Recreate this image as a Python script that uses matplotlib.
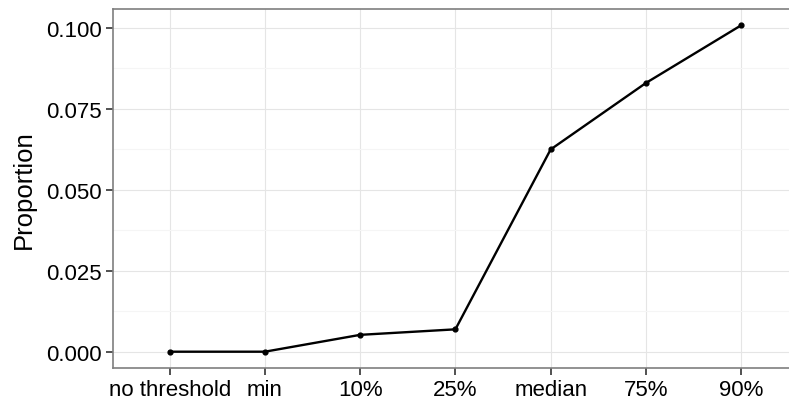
import matplotlib
matplotlib.use("Agg")
import matplotlib.pyplot as plt
from matplotlib.ticker import FixedLocator

categories = ["no threshold", "min", "10%", "25%", "median", "75%", "90%"]
proportion = [0.0, 0.0, 0.0052, 0.0069, 0.0624, 0.0829, 0.1007]
y_ticks = [0.000, 0.025, 0.050, 0.075, 0.100]

plt.rcParams['font.family'] = ['Liberation Sans', 'DejaVu Sans']
plt.rcParams['savefig.bbox'] = 'standard'

fig = plt.figure(figsize=(7.89, 4.06), dpi=100)
W, H = 789, 406
step = 95.25  # px per category
left = 112.5
width = W - left  # panel reaches the right edge of the image
ax = fig.add_axes([left / W, (H - 369) / H, width / W, 359 / H])

x = list(range(len(categories)))
ax.plot(x, proportion, color="black", lw=1.7, zorder=3)
ax.scatter(x, proportion, color="black", s=12, zorder=4)

ax.set_xlim(-0.6, -0.6 + width / step)
ax.set_ylim(-0.00503, 0.10573)
ax.set_xticks(x)
ax.set_xticklabels(categories)
ax.set_yticks(y_ticks)
ax.set_yticklabels([f"{v:.3f}" for v in y_ticks])
ax.yaxis.set_minor_locator(FixedLocator([0.0125, 0.0375, 0.0625, 0.0875]))

ax.grid(True, which="major", color="#E5E5E5", lw=0.8, zorder=0)
ax.grid(True, which="minor", axis="y", color="#F5F5F5", lw=0.8, zorder=0)
ax.set_axisbelow(True)

for s in ax.spines.values():
    s.set_color("#7F7F7F")
    s.set_linewidth(1.2)
ax.spines["right"].set_visible(False)  # cut off by the image edge

ax.tick_params(which="major", length=5, width=1.2, color="#333333",
               labelsize=16, labelcolor="black", pad=3)
ax.tick_params(which="minor", length=0)

ax.set_ylabel("Proportion", fontsize=18.5, va="center")
ax.yaxis.set_label_coords(-89 / width, 0.5)

fig.savefig("out.png", dpi=100, bbox_inches=None)
